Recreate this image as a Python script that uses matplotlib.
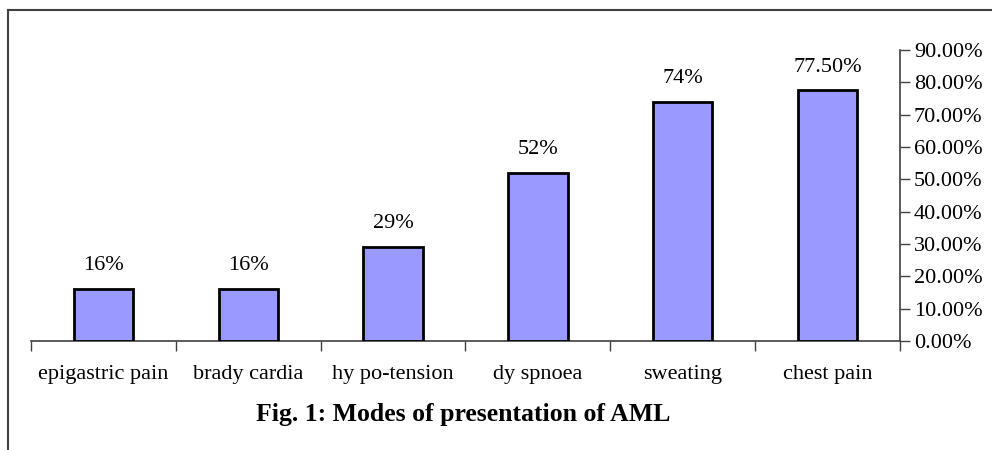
"""
Modes of presentation of AMI - bar chart
"""
import matplotlib
matplotlib.use('Agg')
import matplotlib.pyplot as plt
from matplotlib.lines import Line2D
from matplotlib.ticker import FuncFormatter

plt.rcParams['font.family'] = ['Liberation Serif', 'DejaVu Serif']

# Data
categories = ['epigastric pain', 'brady cardia', 'hy po-tension', 'dy spnoea', 'sweating', 'chest pain']
values = [16, 16, 29, 52, 74, 77.5]
yticks = [0, 10, 20, 30, 40, 50, 60, 70, 80, 90]

W, H = 992, 450
fig = plt.figure(figsize=(W/100, H/100), dpi=100)
ax = fig.add_axes([31/W, (H-341)/H, (900-31)/W, (341-50)/H])

x = list(range(len(categories)))
bars = ax.bar(x, values, width=0.41, color='#9999FF', edgecolor='black', linewidth=2, zorder=3)

# value labels above bars
for xi, v in zip(x, values):
    lab = '%d%%' % v if v == int(v) else '%.2f%%' % v
    ax.text(xi, v + 4.3, lab, ha='center', va='bottom', fontsize=16)

ax.set_xlim(-0.5, len(categories) - 0.5)
ax.set_ylim(0, 90)

# x axis: ticks at category boundaries, labels at centers
ax.set_xticks([i - 0.5 for i in range(len(categories) + 1)])
ax.set_xticklabels([])
ax.set_xticks(x, minor=True)
ax.set_xticklabels(categories, minor=True, fontsize=16)
ax.tick_params(axis='x', which='major', direction='out', length=7, width=1, color='#404040')
ax.tick_params(axis='x', which='minor', length=0, pad=17)

# y axis on right
ax.yaxis.tick_right()
ax.set_yticks(yticks)
ax.yaxis.set_major_formatter(FuncFormatter(lambda v, p: '%.2f%%' % v))
ax.tick_params(axis='y', direction='out', length=7, width=1, color='#404040', labelsize=16, pad=3)

for s in ['left', 'top']:
    ax.spines[s].set_visible(False)
for s in ['right', 'bottom']:
    ax.spines[s].set_color('#404040')
    ax.spines[s].set_linewidth(1.2)
ax.set_facecolor('none')

fig.text(463/W, 1 - 415/H, 'Fig. 1: Modes of presentation of AML', ha='center', va='center',
         fontsize=18.5, fontweight='bold')

# outer frame (partly cropped)
fig.add_artist(Line2D([8/W, 1], [1 - 10/H, 1 - 10/H], color='#404040', linewidth=1.5,
                      transform=fig.transFigure))
fig.add_artist(Line2D([8/W, 8/W], [1 - 10/H, 0], color='#404040', linewidth=1.5,
                      transform=fig.transFigure))

fig.savefig('out.png', dpi=100)
